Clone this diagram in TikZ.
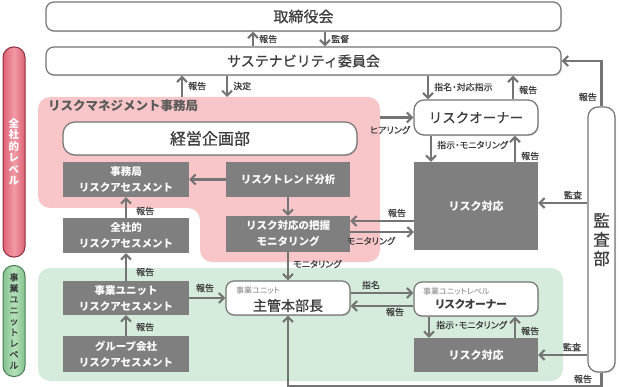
\documentclass[tikz,border=0pt]{standalone}
\usepackage{fontspec}
\setmainfont{Noto Sans CJK JP}
\newfontfamily\medfont[FakeBold=0.6]{Noto Sans CJK JP}
\newfontfamily\lblfont[RawFeature=+palt,FakeBold=0.5]{Noto Sans CJK JP}
\newfontfamily\lblbold[RawFeature=+palt]{Noto Sans CJK JP}
\usetikzlibrary{arrows.meta,shadows,calc}
\definecolor{linegray}{HTML}{747474}
\definecolor{boxgray}{HTML}{7F7F7F}
\definecolor{txtgray}{HTML}{3C3C3C}
\definecolor{titlegray}{HTML}{595959}
\definecolor{subgray}{HTML}{808080}
\definecolor{pinkreg}{HTML}{F8C6C9}
\definecolor{greenreg}{HTML}{D5EBDB}
\definecolor{pinkbarL}{HTML}{F29AA6}
\definecolor{pinkbarD}{HTML}{DC6274}
\definecolor{pinkbarB}{HTML}{8E2E3C}
\definecolor{greenbarL}{HTML}{B3E0B9}
\definecolor{greenbarD}{HTML}{84C28E}
\definecolor{greenbarB}{HTML}{4A7D52}
\tikzset{
  wbox/.style={draw=linegray, line width=1.2pt, fill=white, rounded corners=8pt,
    inner sep=0pt, text=txtgray,
    drop shadow={shadow xshift=1pt, shadow yshift=-1.2pt, opacity=0.25}},
  dbox/.style={fill=boxgray, draw=none, text=white, align=center, inner sep=0pt,
    font=\bfseries\fontsize{10.5}{16}\selectfont},
  arr/.style={draw=linegray, line width=2.1pt, -{Straight Barb[length=5pt,width=10pt]}},
  lbl/.style={font=\lblfont\fontsize{9}{10}\selectfont, text=txtgray, inner sep=0pt},
}
\begin{document}
\begin{tikzpicture}[x=1pt,y=-1pt]
\useasboundingbox (0,0) rectangle (620,387);
% regions
\fill[pinkreg, rounded corners=12pt] (200,97) -- (380,97) -- (380,262) -- (200,262) -- (200,208) -- (38,208) -- (38,97) -- cycle;
\fill[greenreg, rounded corners=12pt] (38,268) rectangle (563,381);
% level bars
\node[draw=pinkbarB, line width=1pt, rounded corners=10.5pt, left color=pinkbarD, right color=pinkbarD, middle color=pinkbarL,
  minimum width=22pt, minimum height=210pt, inner sep=0pt, text=white, align=center,
  font=\bfseries\fontsize{10.5}{11.5}\selectfont] (lvl1) at (14,152) {全\\社\\的\\レ\\ベ\\ル};
\node[draw=greenbarB, line width=1pt, rounded corners=10.5pt, left color=greenbarD, right color=greenbarD, middle color=greenbarL,
  minimum width=22pt, minimum height=111pt, inner sep=0pt, text=black!80, align=center,
  font=\medfont\fontsize{9}{11}\selectfont] (lvl2) at (14,321) {事\\業\\ユ\\ニ\\ッ\\ト\\レ\\ベ\\ル};
% top boxes
\node[wbox, minimum width=515pt, minimum height=29pt, font=\medfont\fontsize{15}{17}\selectfont] (board) at (303.5,16.5) {取締役会};
\node[wbox, minimum width=515pt, minimum height=28pt, font=\medfont\fontsize{14}{16}\selectfont] (sust) at (303.5,61) {サステナビリティ委員会};
% risk management office
\node[anchor=west, inner sep=0pt, text=titlegray, font=\bfseries\fontsize{12.5}{14}\selectfont] (rmtitle) at (48,106) {リスクマネジメント事務局};
\node[wbox, rounded corners=12pt, minimum width=294pt, minimum height=33pt, font=\medfont\fontsize{16}{18}\selectfont] (keiei) at (210,138.5) {経営企画部};
\node[dbox, minimum width=126pt, minimum height=35pt] (jra) at (126,179.5) {事務局\\リスクアセスメント};
\node[dbox, minimum width=124pt, minimum height=35pt] (trend) at (288,179.5) {リスクトレンド分析};
\node[dbox, minimum width=124pt, minimum height=36pt] (haaku) at (288,234) {リスク対応の把握\\モニタリング};
\node[dbox, minimum width=126pt, minimum height=35pt] (zra) at (126,235.5) {全社的\\リスクアセスメント};
% risk owner (company level)
\node[wbox, rounded corners=10pt, minimum width=124pt, minimum height=35pt, font=\medfont\fontsize{13.5}{15}\selectfont] (ro1) at (476,117.5) {リスクオーナー};
\node[dbox, minimum width=124pt, minimum height=88pt, font=\bfseries\fontsize{11}{13}\selectfont] (rt1) at (476,206) {リスク対応};
% audit
\node[wbox, rounded corners=10pt, minimum width=27pt, minimum height=265pt, align=center, font=\medfont\fontsize{16.5}{19}\selectfont] (audit) at (601.5,239.5) {監\\査\\部};
% business unit level
\node[dbox, minimum width=126pt, minimum height=34pt] (bura) at (126,298) {事業ユニット\\リスクアセスメント};
\node[dbox, minimum width=126pt, minimum height=36pt] (gra) at (126,354) {グループ会社\\リスクアセスメント};
\node[wbox, minimum width=124pt, minimum height=34pt] (shukan) at (288,298) {};
\node[anchor=west, inner sep=0pt, text=subgray, font=\lblbold\fontsize{8}{9}\selectfont] (shukanS) at (236,290) {事業ユニット};
\node[inner sep=0pt, text=txtgray, font=\medfont\fontsize{14}{16}\selectfont] (shukanT) at (288,305.5) {主管本部長};
\node[wbox, minimum width=124pt, minimum height=34pt] (ro2) at (476,299) {};
\node[anchor=west, inner sep=0pt, text=subgray, font=\lblbold\fontsize{8}{9}\selectfont] (ro2S) at (423,291) {事業ユニットレベル};
\node[inner sep=0pt, text=txtgray, font=\lblbold\bfseries\fontsize{11}{13}\selectfont] (ro2T) at (471,304) {リスクオーナー};
\node[dbox, minimum width=124pt, minimum height=34pt, font=\bfseries\fontsize{11}{13}\selectfont] (rt2) at (476,355) {リスク対応};
% helper coordinates
\coordinate (rmtop) at (0,97);
\coordinate (rmright) at (380,0);
\coordinate (c253) at (253,0);
\coordinate (c325) at (325,0);
\coordinate (c182) at (182,0);
\coordinate (c227) at (227,0);
\coordinate (c428) at (428,0);
\coordinate (c513) at (513,0);
\coordinate (c431) at (431,0);
\coordinate (c515) at (515,0);
\coordinate (c429) at (429,0);
\coordinate (y203) at (0,203);
\coordinate (y221) at (0,221);
\coordinate (y232) at (0,232);
\coordinate (y293) at (0,293);
\coordinate (y306) at (0,306);
% connectors
\draw[arr] (sust.north -| c253) -- (board.south -| c253);
\draw[arr] (board.south -| c325) -- (sust.north -| c325);
\draw[arr] (rmtop -| c182) -- (sust.south -| c182);
\draw[arr] (sust.south -| c227) -- (rmtop -| c227);
\draw[arr] (sust.south -| c428) -- (ro1.north -| c428);
\draw[arr] (ro1.north -| c513) -- (sust.south -| c513);
\draw[arr] (audit.north) |- (sust.east);
\draw[arr] (rmright |- ro1.west) -- (ro1.west);
\draw[arr] (ro1.south -| c431) -- (rt1.north -| c431);
\draw[arr] (rt1.north -| c515) -- (ro1.south -| c515);
\draw[arr] (audit.west |- y203) -- (rt1.east |- y203);
\draw[arr] (rt1.west |- y221) -- (haaku.east |- y221);
\draw[arr] (haaku.east |- y232) -- (rt1.west |- y232);
\draw[arr] (trend.west) -- (jra.east);
\draw[arr] (trend.south) -- (haaku.north);
\draw[arr] (zra.north) -- (jra.south);
\draw[arr] (bura.north) -- (zra.south);
\draw[arr] (gra.north) -- (bura.south);
\draw[arr] (bura.east) -- (shukan.west);
\draw[arr] (haaku.south) -- (shukan.north);
\draw[arr] (shukan.east |- y293) -- (ro2.west |- y293);
\draw[arr] (ro2.west |- y306) -- (shukan.east |- y306);
\draw[arr] (ro2.south -| c429) -- (rt2.north -| c429);
\draw[arr] (rt2.north -| c515) -- (ro2.south -| c515);
\draw[arr] (audit.west |- rt2.east) -- (rt2.east);
\draw[arr] (audit.south) -- ++(0,13) -| (shukan.south);
% labels
\node[lbl, anchor=west] (l1) at (259,39) {報告};
\node[lbl, anchor=west] (l2) at (331,39) {監督};
\node[lbl, anchor=west] (l3) at (188,86) {報告};
\node[lbl, anchor=west] (l4) at (233,86) {決定};
\node[lbl, anchor=west] (l5) at (434,87) {指名・対応指示};
\node[lbl, anchor=west] (l6) at (519,90) {報告};
\node[lbl, anchor=east] (l7) at (597,97) {報告};
\node[lbl] (l8) at (390,130) {ヒアリング};
\node[lbl, anchor=west] (l9) at (437,145) {指示・モニタリング};
\node[lbl, anchor=west] (l10) at (521,156) {報告};
\node[lbl] (l11) at (573,195) {監査};
\node[lbl] (l12) at (397,213) {報告};
\node[lbl] (l13) at (371,241) {モニタリング};
\node[lbl, anchor=west] (l14) at (136,211) {報告};
\node[lbl, anchor=west] (l15) at (136,272) {報告};
\node[lbl, anchor=west] (l16) at (136,327) {報告};
\node[lbl] (l17) at (205,288) {報告};
\node[lbl, anchor=west] (l18) at (293,264) {モニタリング};
\node[lbl] (l19) at (371,285) {指名};
\node[lbl] (l20) at (395,312) {報告};
\node[lbl, anchor=west] (l21) at (436,325) {指示・モニタリング};
\node[lbl, anchor=west] (l22) at (521,331) {報告};
\node[lbl] (l23) at (572,347) {監査};
\node[lbl] (l24) at (583,379) {報告};
\end{tikzpicture}
\end{document}
